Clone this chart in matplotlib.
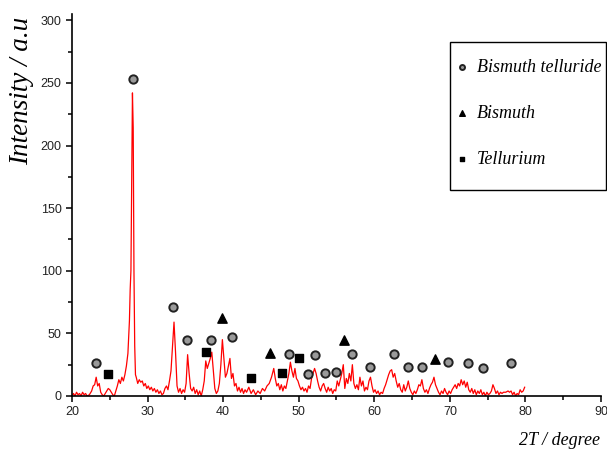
import matplotlib
matplotlib.use("Agg")
import matplotlib.pyplot as plt
from matplotlib.patches import Rectangle

# XRD pattern (2theta in degrees, intensity in a.u.)
two_theta = [20.0, 20.2, 20.4, 20.6, 20.8, 21.0, 21.2, 21.4, 21.6, 21.8, 22.0, 22.3, 22.6, 22.8,
             23.0, 23.2, 23.4, 23.6, 23.8, 24.0, 24.2, 24.5, 24.8, 25.0, 25.2, 25.4, 25.6, 25.8,
             26.0, 26.2, 26.4, 26.6, 26.8, 27.0, 27.2, 27.4, 27.6, 27.7, 27.8, 27.9, 28.0, 28.1,
             28.2, 28.3, 28.4, 28.5, 28.7, 28.9, 29.1, 29.3, 29.5, 29.7, 29.9, 30.1, 30.3, 30.5,
             30.7, 30.9, 31.1, 31.3, 31.5, 31.7, 31.9, 32.1, 32.3, 32.5, 32.7, 32.9, 33.1, 33.3,
             33.5, 33.7, 33.9, 34.1, 34.3, 34.5, 34.7, 34.9, 35.1, 35.3, 35.5, 35.7, 35.9, 36.1,
             36.3, 36.5, 36.7, 36.9, 37.1, 37.3, 37.5, 37.7, 37.9, 38.1, 38.3, 38.5, 38.7, 38.9,
             39.1, 39.3, 39.5, 39.7, 39.9, 40.1, 40.3, 40.5, 40.7, 40.9, 41.1, 41.3, 41.5, 41.7,
             41.9, 42.1, 42.3, 42.5, 42.7, 42.9, 43.1, 43.4, 43.7, 44.0, 44.3, 44.6, 44.9, 45.2,
             45.5, 45.8, 46.1, 46.4, 46.7, 46.9, 47.1, 47.3, 47.5, 47.7, 47.9, 48.1, 48.3, 48.5,
             48.7, 48.9, 49.1, 49.3, 49.5, 49.7, 49.9, 50.1, 50.3, 50.5, 50.7, 50.9, 51.1, 51.3,
             51.5, 51.7, 51.9, 52.1, 52.3, 52.5, 52.7, 52.9, 53.1, 53.3, 53.5, 53.7, 53.9, 54.1,
             54.3, 54.5, 54.7, 54.9, 55.1, 55.3, 55.5, 55.7, 55.9, 56.1, 56.3, 56.5, 56.7, 56.9,
             57.1, 57.3, 57.5, 57.7, 57.9, 58.1, 58.3, 58.5, 58.7, 58.9, 59.1, 59.3, 59.5, 59.7,
             59.9, 60.1, 60.3, 60.5, 60.7, 60.9, 61.1, 61.3, 61.5, 61.7, 61.9, 62.1, 62.3, 62.5,
             62.7, 62.9, 63.1, 63.3, 63.5, 63.7, 63.9, 64.1, 64.3, 64.5, 64.7, 64.9, 65.1, 65.3,
             65.5, 65.7, 65.9, 66.1, 66.3, 66.5, 66.7, 66.9, 67.1, 67.3, 67.5, 67.7, 67.9, 68.1,
             68.3, 68.5, 68.7, 68.9, 69.1, 69.3, 69.5, 69.7, 69.9, 70.1, 70.3, 70.5, 70.7, 70.9,
             71.1, 71.3, 71.5, 71.7, 71.9, 72.1, 72.3, 72.5, 72.7, 72.9, 73.1, 73.3, 73.5, 73.7,
             73.9, 74.1, 74.3, 74.5, 74.7, 74.9, 75.1, 75.3, 75.5, 75.7, 75.9, 76.1, 76.3, 76.5,
             76.7, 76.9, 77.1, 77.4, 77.7, 77.9, 78.1, 78.3, 78.5, 78.7, 78.9, 79.1, 79.3, 79.5,
             79.7, 79.9]
intensity = [0, 2, 0, 3, 1, 2, 0, 3, 1, 2, 0, 1, 4, 8,
             9, 15, 8, 10, 3, 1, 0, 3, 6, 5, 3, 1, 0, 4,
             8, 13, 10, 15, 12, 17, 24, 34, 60, 85, 100, 174, 242, 214,
             100, 40, 17, 15, 10, 13, 11, 12, 8, 10, 6, 8, 5, 7,
             4, 6, 3, 5, 2, 4, 1, 2, 6, 8, 5, 12, 20, 40,
             59, 35, 8, 3, 6, 2, 5, 3, 10, 33, 18, 6, 4, 7,
             2, 5, 1, 4, 0, 5, 12, 28, 22, 26, 30, 35, 20, 6,
             2, 4, 10, 25, 45, 30, 15, 18, 24, 30, 14, 18, 8, 10,
             4, 7, 3, 6, 2, 5, 3, 7, 2, 5, 1, 4, 2, 6,
             4, 8, 10, 15, 22, 14, 8, 10, 5, 9, 4, 8, 6, 12,
             18, 27, 20, 15, 22, 14, 12, 8, 5, 7, 4, 6, 3, 8,
             6, 14, 18, 22, 18, 12, 7, 4, 8, 10, 6, 3, 7, 4,
             6, 2, 5, 4, 12, 8, 13, 18, 25, 6, 14, 10, 18, 12,
             25, 10, 6, 9, 5, 15, 8, 12, 4, 7, 5, 12, 15, 8,
             3, 5, 2, 4, 1, 3, 2, 6, 9, 13, 17, 20, 21, 15,
             18, 12, 7, 10, 5, 3, 9, 4, 7, 12, 6, 3, 1, 4,
             2, 5, 9, 8, 13, 6, 3, 5, 2, 6, 9, 11, 15, 9,
             6, 3, 1, 4, 2, 6, 3, 1, 4, 2, 5, 7, 9, 6,
             10, 8, 13, 9, 12, 7, 11, 5, 3, 6, 2, 5, 1, 4,
             2, 5, 1, 3, 0, 3, 1, 2, 4, 9, 6, 2, 4, 1,
             3, 2, 3, 3, 4, 3, 4, 1, 3, 0, 2, 1, 5, 3,
             4, 7]

# phase markers (position, marker height)
bite_x = [23.2, 28.1, 33.4, 35.2, 38.4, 41.2, 48.7, 51.2, 52.2, 53.5, 54.9, 57.05, 59.4,
          62.6, 64.5, 66.3, 69.75, 72.4, 74.4, 78.1]
bite_y = [26, 253, 71, 45, 45, 47, 33.5, 17.6, 33, 18, 19, 33.5, 23,
          33.5, 23, 23, 27, 26, 22, 26]
bi_x = [39.9, 46.2, 56.0, 68.1]
bi_y = [62.5, 34.6, 44.4, 29.8]
te_x = [24.8, 37.7, 43.7, 47.8, 50.1]
te_y = [17.3, 35.4, 14.6, 18.6, 30.6]

fig = plt.figure(figsize=(6.07, 4.65), dpi=100)
ax = fig.add_axes([0.1186, 0.1484, 0.8715, 0.8215])

ax.plot(two_theta, intensity, color='#ff0000', lw=0.9)
ax.scatter(bite_x, bite_y, s=36, marker='o', facecolor='#9a9a9a', edgecolor='#222222',
           linewidths=1.4, label='Bismuth telluride', zorder=3)
ax.scatter(bi_x, bi_y, s=45, marker='^', color='black', label='Bismuth', zorder=3)
ax.scatter(te_x, te_y, s=32, marker='s', color='black', label='Tellurium', zorder=3)

ax.set_xlim(20, 90)
ax.set_ylim(0, 305)
ax.set_xticks(range(20, 91, 10))
ax.set_xticks(range(25, 90, 10), minor=True)
ax.set_yticks(range(0, 301, 50))
ax.set_yticks(range(25, 300, 50), minor=True)

for s in ['top', 'right']:
    ax.spines[s].set_visible(False)
for s in ['left', 'bottom']:
    ax.spines[s].set_linewidth(1.2)
ax.tick_params(which='major', direction='out', length=4, width=1.1, labelsize=9,
               labelcolor='#222222')
ax.tick_params(which='minor', direction='out', length=3, width=1.1)
for lab in ax.get_xticklabels() + ax.get_yticklabels():
    lab.set_family('Liberation Sans')

ax.set_ylabel('Intensity / a.u', family='Liberation Serif', style='italic', fontsize=19.5)
ax.yaxis.set_label_coords(-0.072, 0.80)
ax.set_xlabel('2T / degree', family='Liberation Serif', style='italic', fontsize=13, ha='right')
ax.xaxis.set_label_coords(0.998, -0.095)

# legend box drawn separately, entries placed inside it
fig.patches.append(Rectangle((450 / 607, 1 - 190 / 465), 156 / 607, 148 / 465,
                             transform=fig.transFigure, fill=False, edgecolor='black', lw=1.0))
leg = ax.legend(loc='upper left', bbox_to_anchor=(456 / 607, 1 - 59 / 465),
                bbox_transform=fig.transFigure, borderaxespad=0, frameon=False,
                markerscale=0.6, handlelength=0.7, handletextpad=0.45, borderpad=0,
                labelspacing=1.6,
                prop={'family': 'Liberation Serif', 'style': 'italic', 'size': 13})

fig.savefig('out.png', dpi=100)
